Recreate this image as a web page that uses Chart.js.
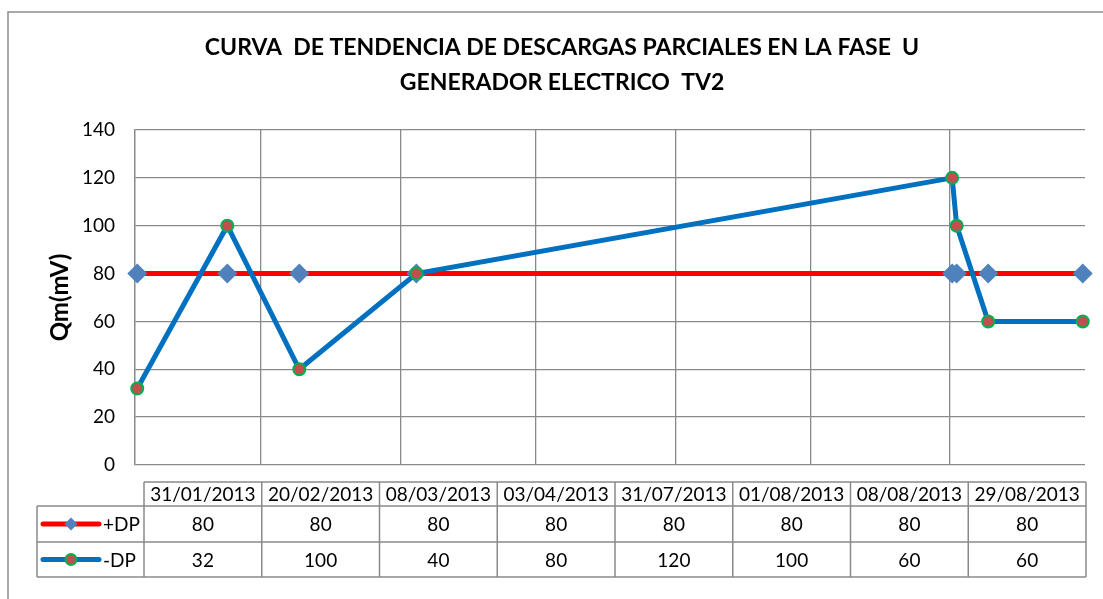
<!DOCTYPE html>
<html><head><meta charset="utf-8">
<script src="https://cdn.jsdelivr.net/npm/chart.js@4.4.0/dist/chart.umd.min.js"></script>
<style>html,body{margin:0;padding:0;background:#fff;}#wrap{width:1103px;height:599px;position:relative}</style>
</head><body><div id="wrap"><canvas id="c" width="1103" height="599"></canvas></div>
<script>
// ---- data ----
const titleLines = ['CURVA  DE TENDENCIA DE DESCARGAS PARCIALES EN LA FASE  U', 'GENERADOR ELECTRICO  TV2'];
const yAxisTitle = 'Qm(mV)';
const dates = ['31/01/2013','20/02/2013','08/03/2013','03/04/2013','31/07/2013','01/08/2013','08/08/2013','29/08/2013'];
const seriesNames = ['+DP', '-DP'];
const plusDP = [80, 80, 80, 80, 80, 80, 80, 80];
const minusDP = [32, 100, 40, 80, 120, 100, 60, 60];
const yTicks = [0, 20, 40, 60, 80, 100, 120, 140];

// ---- helpers ----
const DAY = 86400000;
function parseDate(s) { const [d, m, y] = s.split('/').map(Number); return { d, m, y, t: Date.UTC(y, m - 1, d) }; }
const parsed = dates.map(parseDate);
const t0 = parsed[0].t;
const offsets = parsed.map(p => Math.round((p.t - t0) / DAY));
const lastOff = offsets[offsets.length - 1];
// month steps from first date (day clamped to month length), placed at slot start
const gridVals = [-0.5];
for (let k = 1; k < 24; k++) {
  const y = parsed[0].y, m = parsed[0].m - 1 + k;
  const dim = new Date(Date.UTC(y, m + 1, 0)).getUTCDate();
  const t = Date.UTC(y, m, Math.min(parsed[0].d, dim));
  const off = Math.round((t - t0) / DAY) - 0.5;
  if (off > lastOff) break;
  gridVals.push(off);
}
const toPts = arr => arr.map((v, i) => ({ x: offsets[i], y: v }));

const GRID = '#8a8a8a';
const FONT = 'Lato';

const decor = {
  id: 'decor',
  afterDraw(chart) {
    const ctx = chart.ctx;
    ctx.save();
    // outer frame
    ctx.strokeStyle = '#8c8c8c'; ctx.lineWidth = 1.5;
    ctx.strokeRect(8, 12, 1200, 700);
    // title
    ctx.fillStyle = '#000';
    ctx.font = 'bold 23px ' + FONT;
    ctx.textAlign = 'center'; ctx.textBaseline = 'middle';
    ctx.fillText(titleLines[0], 562, 48);
    ctx.fillText(titleLines[1], 562, 83);
    // data table
    const L = 144, R = 1086, legL = 37;
    const rows = [482, 506, 542, 577];
    const n = dates.length, cw = (R - L) / n;
    ctx.strokeStyle = GRID; ctx.lineWidth = 1.5;
    ctx.beginPath();
    ctx.moveTo(L, rows[0]); ctx.lineTo(R, rows[0]);
    for (let r = 1; r < rows.length; r++) { ctx.moveTo(legL, rows[r]); ctx.lineTo(R, rows[r]); }
    for (let c = 0; c <= n; c++) { const x = L + c * cw; ctx.moveTo(x, rows[0]); ctx.lineTo(x, rows[3]); }
    ctx.moveTo(legL, rows[1]); ctx.lineTo(legL, rows[3]);
    ctx.stroke();
    ctx.font = '19px ' + FONT; ctx.fillStyle = '#000';
    ctx.textAlign = 'center';
    dates.forEach((d, i) => ctx.fillText(d, L + (i + 0.5) * cw, (rows[0] + rows[1]) / 2 + 1));
    const series = [plusDP, minusDP];
    series.forEach((arr, r) => {
      const cy = (rows[r + 1] + rows[r + 2]) / 2 + 1;
      arr.forEach((v, i) => ctx.fillText(String(v), L + (i + 0.5) * cw, cy));
    });
    // legend keys
    const ds = chart.data.datasets;
    [0, 1].forEach(r => {
      const cy = (rows[r + 1] + rows[r + 2]) / 2;
      const o = ds[r];
      ctx.strokeStyle = o.borderColor; ctx.lineWidth = 5; ctx.lineCap = 'round';
      ctx.beginPath(); ctx.moveTo(43, cy); ctx.lineTo(99, cy); ctx.stroke();
      ctx.lineCap = 'butt';
      ctx.fillStyle = o.pointBackgroundColor;
      if (o.pointStyle === 'rectRot') {
        const s = 6.5;
        ctx.beginPath(); ctx.moveTo(71, cy - s); ctx.lineTo(71 + s, cy); ctx.lineTo(71, cy + s); ctx.lineTo(71 - s, cy); ctx.closePath(); ctx.fill();
      } else {
        ctx.beginPath(); ctx.arc(71, cy, 5.5, 0, Math.PI * 2); ctx.fill();
        ctx.strokeStyle = o.pointBorderColor; ctx.lineWidth = 2; ctx.stroke();
      }
      ctx.fillStyle = '#000'; ctx.textAlign = 'left';
      ctx.fillText(seriesNames[r], 103, cy + 1);
      ctx.textAlign = 'center';
    });
    ctx.restore();
  }
};

new Chart(document.getElementById('c'), {
  type: 'line',
  data: {
    datasets: [
      { label: seriesNames[0], data: toPts(plusDP), borderColor: '#FF0000', borderWidth: 5,
        pointStyle: 'rectRot', pointRadius: 10, pointBackgroundColor: '#4F81BD', pointBorderColor: '#4F81BD',
        pointBorderWidth: 0, tension: 0, order: 1, clip: false },
      { label: seriesNames[1], data: toPts(minusDP), borderColor: '#0070C0', borderWidth: 5,
        pointStyle: 'circle', pointRadius: 6, pointBackgroundColor: '#C0504D', pointBorderColor: '#00B050',
        pointBorderWidth: 2, tension: 0, order: 0, clip: false }
    ]
  },
  options: {
    responsive: false, animation: false, events: [],
    layout: { padding: { left: 0, top: 130, right: 18, bottom: 134 } },
    plugins: { legend: { display: false }, title: { display: false }, tooltip: { enabled: false } },
    scales: {
      x: {
        type: 'linear', min: -0.5, max: lastOff + 0.5,
        afterBuildTicks: s => { s.ticks = gridVals.map(v => ({ value: v })); },
        ticks: { display: false },
        grid: { color: GRID, lineWidth: 1.3, drawTicks: false },
        border: { display: false },
        afterFit: s => { s.height = 0; }
      },
      y: {
        min: 0, max: 140,
        afterBuildTicks: s => { s.ticks = yTicks.map(v => ({ value: v })); },
        ticks: { padding: 20, color: '#000', font: { family: FONT, size: 19 } },
        grid: { color: GRID, lineWidth: 1.3, drawTicks: false },
        border: { color: GRID, width: 1.3 },
        title: { display: true, text: yAxisTitle, color: '#000', font: { family: FONT, size: 24, weight: 'bold' }, padding: { top: 46, bottom: 0 } },
        afterFit: s => { s.width = 135; }
      }
    }
  },
  plugins: [decor]
});
</script></body></html>
